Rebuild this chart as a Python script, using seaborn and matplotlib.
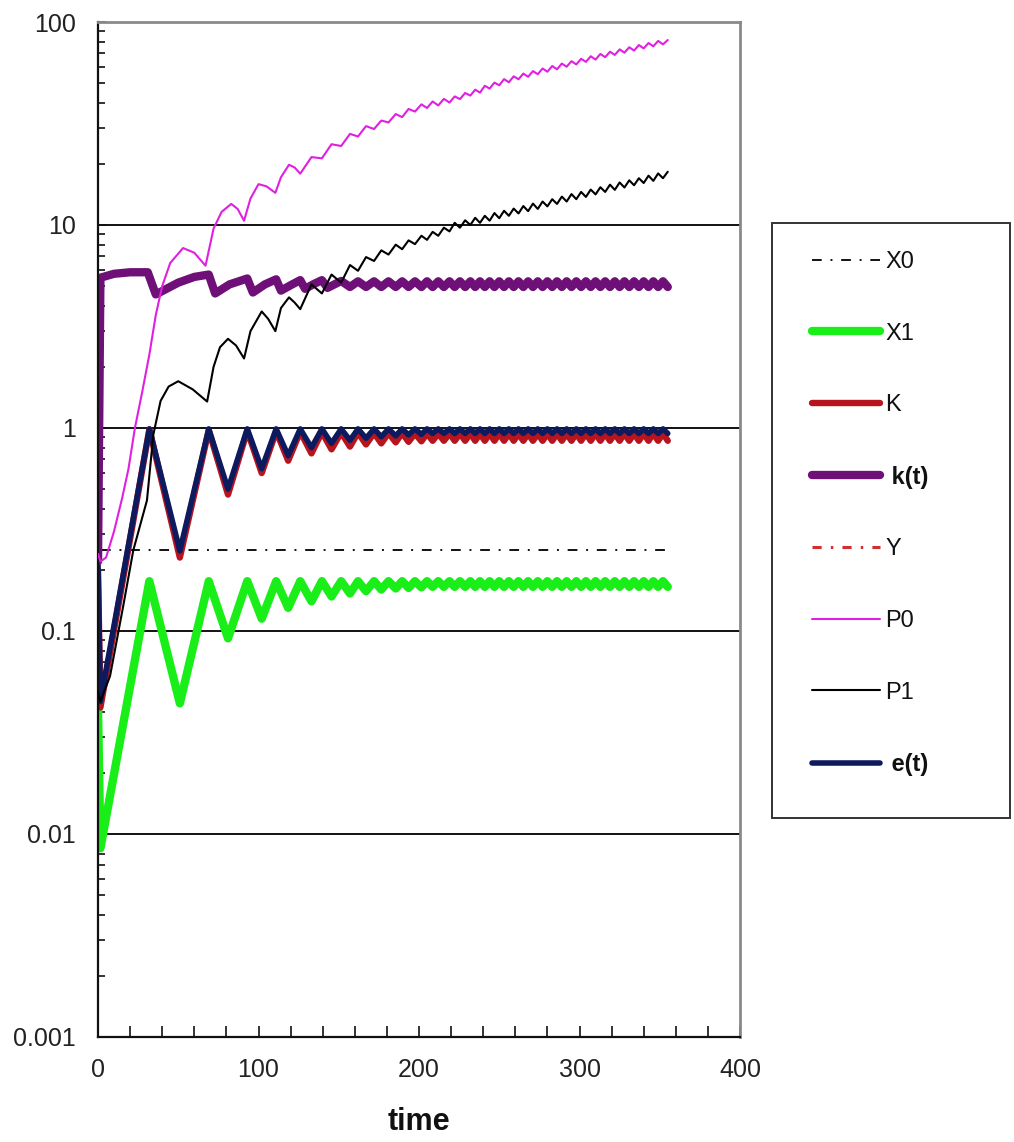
import matplotlib
matplotlib.use("Agg")
import matplotlib.pyplot as plt
import seaborn as sns
from matplotlib.ticker import FixedLocator, FuncFormatter, MultipleLocator, LogLocator, NullFormatter
from matplotlib.patches import Rectangle

# ---------------- data ----------------
# shared extreme times of the oscillating series (peaks / troughs)
t_osc = [0, 1.5, 32, 51, 69, 81, 93, 102, 111, 118.5,
         126, 133, 139.5, 145.5, 151.5, 157, 162, 167, 172, 176.5,
         181, 185.5, 189.5, 193.5, 197.5, 201.5, 205, 208.5, 212, 215.5,
         219, 222.25, 225.5, 228.75, 232, 235, 238, 241, 244, 247,
         250, 253, 256, 259, 262, 265, 268, 271, 274, 277,
         280, 283, 286, 289, 292, 295, 298, 301, 304, 307,
         310, 313, 316, 319, 322, 325, 328, 331, 334, 337,
         340, 343, 346, 349, 352, 355]

x0_t = [2, 355]
x0_v = [0.25, 0.25]

x1_v = [0.042, 0.0085, 0.176, 0.044, 0.176, 0.092, 0.176, 0.115, 0.176, 0.130,
        0.176, 0.140, 0.176, 0.148, 0.176, 0.153, 0.176, 0.157, 0.176, 0.160,
        0.176, 0.162, 0.176, 0.163, 0.176, 0.164, 0.176, 0.165, 0.176, 0.165,
        0.176, 0.165, 0.176, 0.165, 0.176, 0.165, 0.176, 0.165, 0.176, 0.165,
        0.176, 0.165, 0.176, 0.165, 0.176, 0.165, 0.176, 0.165, 0.176, 0.165,
        0.176, 0.165, 0.176, 0.165, 0.176, 0.165, 0.176, 0.165, 0.176, 0.165,
        0.176, 0.165, 0.176, 0.165, 0.176, 0.165, 0.176, 0.165, 0.176, 0.165,
        0.176, 0.165, 0.176, 0.165, 0.176, 0.165]

e_v = [0.22, 0.045, 0.99, 0.248, 0.99, 0.50, 0.99, 0.63, 0.99, 0.73,
       0.99, 0.80, 0.99, 0.84, 0.99, 0.87, 0.99, 0.89, 0.99, 0.905,
       0.99, 0.915, 0.99, 0.925, 0.99, 0.93, 0.99, 0.94, 0.99, 0.94,
       0.99, 0.94, 0.99, 0.94, 0.99, 0.94, 0.99, 0.94, 0.99, 0.94,
       0.99, 0.94, 0.99, 0.94, 0.99, 0.94, 0.99, 0.94, 0.99, 0.94,
       0.99, 0.94, 0.99, 0.94, 0.99, 0.94, 0.99, 0.94, 0.99, 0.94,
       0.99, 0.94, 0.99, 0.94, 0.99, 0.94, 0.99, 0.94, 0.99, 0.94,
       0.99, 0.94, 0.99, 0.94, 0.99, 0.94]

K_v = [0.20, 0.042, 0.985, 0.23, 0.975, 0.47, 0.97, 0.60, 0.965, 0.69,
       0.96, 0.75, 0.955, 0.785, 0.95, 0.81, 0.95, 0.83, 0.945, 0.84,
       0.945, 0.85, 0.945, 0.855, 0.94, 0.86, 0.94, 0.865, 0.94, 0.865,
       0.94, 0.865, 0.94, 0.865, 0.94, 0.865, 0.94, 0.865, 0.94, 0.865,
       0.94, 0.865, 0.94, 0.865, 0.94, 0.865, 0.94, 0.865, 0.94, 0.865,
       0.94, 0.865, 0.94, 0.865, 0.94, 0.865, 0.94, 0.865, 0.94, 0.865,
       0.94, 0.865, 0.94, 0.865, 0.94, 0.865, 0.94, 0.865, 0.94, 0.865,
       0.94, 0.865, 0.94, 0.865, 0.94, 0.865]

Y_v = K_v  # Y lies under K in the picture

kt_t_early = [0, 1.5, 10, 20, 31, 36, 50, 60, 69, 73, 82, 93, 96.5, 104,
              111, 114, 120, 126, 129, 134, 139.5, 143]
kt_v_early = [0.22, 5.5, 5.75, 5.85, 5.85, 4.55, 5.2, 5.55, 5.7, 4.6, 5.1, 5.45, 4.65, 5.1,
              5.4, 4.75, 5.05, 5.35, 4.85, 5.1, 5.35, 4.9]
kt_v_late = [5.3, 4.95, 5.28, 4.95, 5.28, 4.95, 5.28, 4.95, 5.28, 4.95,
             5.28, 4.95, 5.28, 4.95, 5.28, 4.95, 5.28, 4.95, 5.28, 4.95,
             5.28, 4.95, 5.28, 4.95, 5.28, 4.95, 5.28, 4.95, 5.28, 4.95,
             5.28, 4.95, 5.28, 4.95, 5.28, 4.95, 5.28, 4.95, 5.28, 4.95,
             5.28, 4.95, 5.28, 4.95, 5.28, 4.95, 5.28, 4.95, 5.28, 4.95,
             5.28, 4.95, 5.28, 4.95, 5.28, 4.95, 5.28, 4.95, 5.28, 4.95,
             5.28, 4.95]

p0_t_early = [0, 1.5, 5, 10, 15, 19, 23, 27.5, 32, 36, 40, 45, 53, 60, 67, 72, 77, 83,
              87, 91, 95, 100, 105, 110.5, 114, 119, 122.5]
p0_v_early = [0.24, 0.22, 0.23, 0.31, 0.45, 0.63, 1.0, 1.5, 2.3, 3.6, 5.0, 6.5, 7.7, 7.3,
              6.3, 9.6, 11.6, 12.7, 12.0, 10.5, 13.5, 15.9, 15.5, 14.4, 17.2, 19.8, 19.2]
p0_v_late = [17.9, 21.6, 21.3, 25.0, 24.5, 28.1, 27.3, 30.7, 29.7, 32.7,
             32.0, 35.2, 34.0, 37.3, 36.2, 39.3, 37.7, 40.6, 38.8, 41.8,
             40.1, 43.0, 41.7, 44.7, 43.4, 46.4, 44.9, 48.5, 47.0, 50.3,
             48.8, 52.3, 50.5, 54.0, 52.2, 55.7, 53.7, 57.3, 55.3, 59.0,
             56.9, 60.7, 58.5, 62.4, 60.2, 64.1, 61.8, 65.9, 63.6, 67.8,
             65.3, 69.6, 67.1, 71.4, 68.8, 73.3, 70.6, 75.1, 72.3, 77.0,
             74.1, 78.8, 75.9, 80.7, 77.6, 81.5]

p1_t_early = [0, 1.5, 7.5, 15.5, 22, 30.5, 34.5, 39, 44, 50, 59, 68, 72, 76, 81, 86,
              91, 95, 102, 106, 110.5, 114, 119, 122.5]
p1_v_early = [0.05, 0.045, 0.06, 0.13, 0.25, 0.44, 0.93, 1.36, 1.6, 1.7, 1.55, 1.35, 2.0,
              2.5, 2.75, 2.55, 2.2, 3.0, 3.75, 3.45, 3.0, 3.9, 4.4, 4.15]
p1_v_late = [3.85, 5.1, 4.6, 5.7, 5.2, 6.35, 5.95, 6.95, 6.65, 7.5,
             7.15, 8.0, 7.6, 8.4, 8.05, 8.85, 8.45, 9.25, 8.85, 9.7,
             9.3, 10.25, 9.7, 10.55, 10.0, 10.85, 10.25, 11.1, 10.5, 11.45,
             10.8, 11.75, 11.1, 12.05, 11.4, 12.4, 11.7, 12.75, 12.0, 13.05,
             12.35, 13.4, 12.7, 13.8, 13.05, 14.2, 13.4, 14.55, 13.75, 14.95,
             14.15, 15.35, 14.55, 15.8, 14.9, 16.2, 15.3, 16.6, 15.7, 17.0,
             16.1, 17.5, 16.5, 17.95, 17.0, 18.3]

y_ticks = [0.001, 0.01, 0.1, 1, 10, 100]
legend_order = ["X0", "X1", "K", " k(t)", "Y", "P0", "P1", " e(t)"]

# ---------------- figure ----------------
sns.set_theme(style="white")
plt.rcParams['font.family'] = ['Liberation Sans', 'DejaVu Sans']

W, H = 1014, 1142
fig = plt.figure(figsize=(W / 100, H / 100), dpi=100)
fig.patch.set_facecolor("white")
ax = fig.add_axes([98 / W, 1 - 1037 / H, (740 - 98) / W, (1037 - 22) / H])
ax.set_yscale("log")

series = [
    ("X0", x0_t, x0_v, "#111111", 1.4, 2.0),
    ("Y", t_osc, Y_v, "#D03030", 2.2, 2.1),
    ("X1", t_osc, x1_v, "#19EE19", 6.0, 2.2),
    ("K", t_osc, K_v, "#B8141E", 4.6, 2.3),
    (" e(t)", t_osc, e_v, "#0D1B5E", 4.0, 2.4),
    (" k(t)", kt_t_early + t_osc[14:], kt_v_early + kt_v_late, "#6F0F78", 6.0, 2.5),
    ("P0", p0_t_early + t_osc[10:], p0_v_early + p0_v_late, "#E020E0", 1.5, 2.6),
    ("P1", p1_t_early + t_osc[10:], p1_v_early + p1_v_late, "#000000", 1.5, 2.7),
]

handles = {}
for name, tx, vy, col, lw, z in series:
    sns.lineplot(x=tx, y=vy, ax=ax, color=col, linewidth=lw, label=name,
                 estimator=None, sort=False, zorder=z)
    ln = ax.lines[-1]
    ln.set_solid_capstyle("round")
    ln.set_solid_joinstyle("round")
    if name == "X0":
        ln.set_dashes((5, 4.5, 1, 4.5))
    if name == "Y":
        ln.set_dashes((3, 3, 0.8, 3))
    handles[name] = ln

ax.set_xlim(0, 400)
ax.set_ylim(0.001, 100)

# grid lines at decades
ax.yaxis.set_major_locator(FixedLocator(y_ticks))
ax.yaxis.set_major_formatter(FuncFormatter(lambda v, p: f"{v:g}"))
ax.yaxis.set_minor_locator(LogLocator(base=10, subs=range(2, 10)))
ax.yaxis.set_minor_formatter(NullFormatter())
ax.xaxis.set_major_locator(MultipleLocator(100))
ax.xaxis.set_minor_locator(MultipleLocator(20))
ax.set_axisbelow(True)
ax.yaxis.grid(True, which="major", color="#111111", linewidth=1.4)
ax.xaxis.grid(False)

ax.tick_params(axis="y", which="both", direction="in", left=True, right=False,
               color="#111111", width=1.2)
ax.tick_params(axis="y", which="major", length=6, pad=16, labelsize=18, labelcolor="#222222")
ax.tick_params(axis="y", which="minor", length=5)
ax.tick_params(axis="x", which="both", direction="in", bottom=True, top=False,
               color="#111111", width=1.2, length=8)
ax.tick_params(axis="x", which="major", pad=15, labelsize=18, labelcolor="#222222")

for side in ["left", "bottom"]:
    ax.spines[side].set_color("#111111")
    ax.spines[side].set_linewidth(1.6)
for side in ["top", "right"]:
    ax.spines[side].set_color("#8a8a8a")
    ax.spines[side].set_linewidth(2.0)

ax.set_xlabel("time", fontsize=22, fontweight="bold", labelpad=18, color="#111111")
ax.set_ylabel("")

# legend
lg = ax.get_legend()
if lg is not None:
    lg.remove()
leg = ax.legend([handles[n] for n in legend_order], legend_order,
                loc="upper left", bbox_to_anchor=(812 / W, 1 - 251 / H),
                bbox_transform=fig.transFigure, frameon=False, fontsize=17,
                handlelength=2.9, handletextpad=0.2, labelspacing=2.1,
                borderpad=0, borderaxespad=0)
for txt in leg.get_texts():
    txt.set_color("#111111")
    if txt.get_text().strip() in ("k(t)", "e(t)"):
        txt.set_fontweight("bold")

fig.patches.append(Rectangle((772 / W, 1 - 818 / H), (1010 - 772) / W, (818 - 223) / H,
                             transform=fig.transFigure, fill=False,
                             edgecolor="#333333", linewidth=1.4))

fig.savefig("out.png", dpi=100)
